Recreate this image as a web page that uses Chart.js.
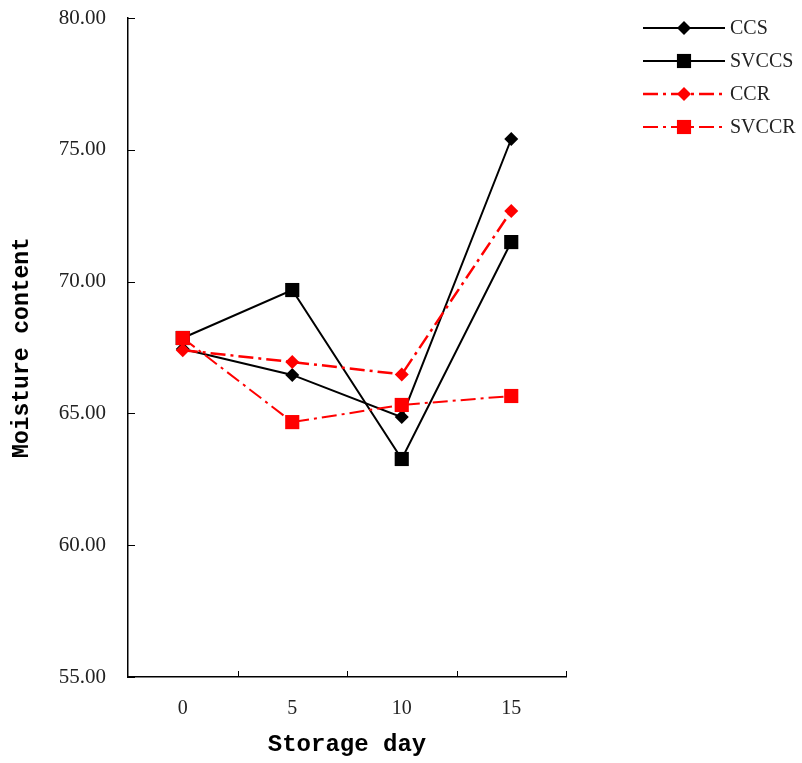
<!DOCTYPE html>
<html>
<head>
<meta charset="utf-8">
<script src="https://cdn.jsdelivr.net/npm/chart.js@4/dist/chart.umd.min.js"></script>
<style>
  html, body { margin: 0; padding: 0; background: #ffffff; }
  #wrap { width: 802px; height: 763px; position: relative; }
</style>
</head>
<body>
<div id="wrap"><canvas id="chart-moisture"></canvas></div>
<script>
// Contenido de humedad por dia de almacenamiento.
const storageDays = ['0', '5', '10', '15'];
const ccsValues = [67.44, 66.46, 64.86, 75.41];
const svccsValues = [67.86, 69.68, 63.27, 71.50];
const ccrValues = [67.40, 66.95, 66.48, 72.68];
const svccrValues = [67.86, 64.67, 65.32, 65.66];
const seriesNames = ['CCS', 'SVCCS', 'CCR', 'SVCCR'];
const yTicks = [55, 60, 65, 70, 75, 80];

const serif = '"Liberation Serif", "DejaVu Serif", serif';
const monoBold = '"Liberation Mono", "DejaVu Sans Mono", monospace';

function makeSeries(label, data, color, dash, width, shape, radius, order) {
  return {
    label: label,
    data: data,
    borderColor: color,
    backgroundColor: color,
    borderWidth: width,
    borderDash: dash,
    pointStyle: shape,
    pointRadius: radius,
    pointHoverRadius: radius,
    pointBackgroundColor: color,
    pointBorderColor: color,
    pointBorderWidth: 0,
    tension: 0,
    fill: false,
    order: order
  };
}

// Marcas hacia dentro en ambos ejes.
const innerTicksPlugin = {
  id: 'innerTicks',
  afterDraw(chart) {
    const x = chart.scales.x;
    const y = chart.scales.y;
    const ctx = chart.ctx;
    ctx.save();
    ctx.strokeStyle = '#000000';
    ctx.lineWidth = 1;
    yTicks.forEach((v) => {
      const py = Math.round(y.getPixelForValue(v)) + 0.5;
      ctx.beginPath();
      ctx.moveTo(x.left, py);
      ctx.lineTo(x.left + 7, py);
      ctx.stroke();
    });
    const step = (x.right - x.left) / storageDays.length;
    for (let k = 1; k <= storageDays.length; k++) {
      const px = Math.round(x.left + k * step) + 0.5;
      ctx.beginPath();
      ctx.moveTo(px, y.bottom);
      ctx.lineTo(px, y.bottom - 6);
      ctx.stroke();
    }
    ctx.restore();
  }
};

// Igual que Chart.js: rombo con vertices a r, cuadrado de semilado r*sqrt(1/2).
function drawMarker(ctx, shape, cx, cy, r, color) {
  ctx.fillStyle = color;
  ctx.beginPath();
  if (shape === 'rectRot') {
    ctx.moveTo(cx, cy - r);
    ctx.lineTo(cx + r, cy);
    ctx.lineTo(cx, cy + r);
    ctx.lineTo(cx - r, cy);
    ctx.closePath();
  } else {
    const h = r * Math.SQRT1_2;
    ctx.rect(cx - h, cy - h, 2 * h, 2 * h);
  }
  ctx.fill();
}

// Leyenda a la derecha: linea + marcador + nombre.
const sideLegendPlugin = {
  id: 'sideLegend',
  afterDraw(chart) {
    const ctx = chart.ctx;
    const lineX0 = 643;
    const lineX1 = 725;
    const textX = 730;
    const top = 28;
    const gap = 33;
    ctx.save();
    chart.data.datasets.forEach((ds, i) => {
      const cy = top + i * gap;
      ctx.strokeStyle = ds.borderColor;
      ctx.lineWidth = ds.borderWidth;
      ctx.setLineDash(ds.borderDash || []);
      ctx.beginPath();
      ctx.moveTo(lineX0, cy);
      ctx.lineTo(lineX1, cy);
      ctx.stroke();
      ctx.setLineDash([]);
      drawMarker(ctx, ds.pointStyle, (lineX0 + lineX1) / 2, cy, ds.pointRadius, ds.borderColor);
      ctx.fillStyle = '#222222';
      ctx.font = '20px ' + serif;
      ctx.textBaseline = 'middle';
      ctx.textAlign = 'left';
      ctx.fillText(ds.label, textX, cy + 1);
    });
    ctx.restore();
  }
};

new Chart(document.getElementById('chart-moisture'), {
  type: 'line',
  data: {
    labels: storageDays,
    datasets: [
      makeSeries(seriesNames[0], ccsValues, '#000000', [], 2, 'rectRot', 7, 4),
      makeSeries(seriesNames[1], svccsValues, '#000000', [], 2, 'rect', 10, 3),
      makeSeries(seriesNames[2], ccrValues, '#ff0000', [15, 5, 3, 5], 2.5, 'rectRot', 7, 2),
      makeSeries(seriesNames[3], svccrValues, '#ff0000', [15, 5, 3, 5], 2, 'rect', 10, 1)
    ]
  },
  plugins: [innerTicksPlugin, sideLegendPlugin],
  options: {
    responsive: true,
    maintainAspectRatio: false,
    animation: false,
    layout: { padding: { top: 18, right: 236, bottom: 0, left: 0 } },
    plugins: {
      legend: { display: false },
      tooltip: { enabled: false }
    },
    scales: {
      x: {
        type: 'category',
        offset: true,
        grid: { display: false, drawTicks: false },
        border: { display: true, color: '#000000', width: 1.5 },
        ticks: {
          color: '#222222',
          font: { family: serif, size: 20 },
          padding: 20
        },
        title: {
          display: true,
          text: 'Storage day',
          color: '#000000',
          font: { family: monoBold, size: 24, weight: 'bold' },
          padding: { top: 4, bottom: 4 }
        },
        afterFit(scale) {
          scale.height = 86;
          scale.paddingLeft = 0;
          scale.paddingRight = 0;
        }
      },
      y: {
        min: 55,
        max: 80,
        grid: { display: false, drawTicks: false },
        border: { display: true, color: '#000000', width: 1.5 },
        afterBuildTicks(scale) { scale.ticks = yTicks.map((v) => ({ value: v })); },
        ticks: {
          color: '#222222',
          font: { family: serif, size: 21 },
          padding: 22,
          callback: (v) => Number(v).toFixed(2)
        },
        title: {
          display: true,
          text: 'Moisture content',
          color: '#000000',
          font: { family: monoBold, size: 23, weight: 'bold' },
          padding: { top: 8, bottom: 4 }
        },
        afterFit(scale) {
          scale.width = 128;
          scale.paddingTop = 0;
          scale.paddingBottom = 0;
        }
      }
    }
  }
});
</script>
</body>
</html>
